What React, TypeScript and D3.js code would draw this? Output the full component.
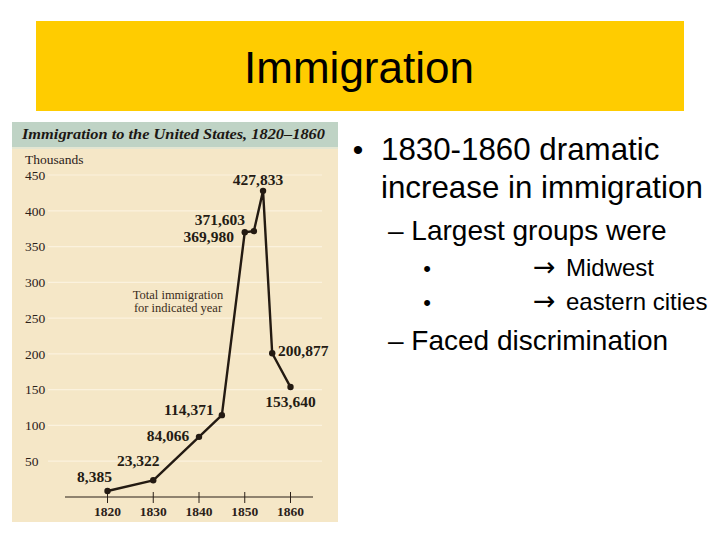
import * as d3 from 'd3';

// immigration by year (persons)
const years = [1820, 1830, 1840, 1845, 1850, 1852, 1854, 1856, 1860];
const immigrants = [8385, 23322, 84066, 114371, 369980, 371603, 427833, 200877, 153640];
const yTicks = [50, 100, 150, 200, 250, 300, 350, 400, 450];
const xTicks = [1820, 1830, 1840, 1850, 1860];

// where each value label sits relative to its point
const labelOffsets: [number, number][] = [
  [-13, -14],
  [-15, -20],
  [-31, -1],
  [-33, -6],
  [-36, 4],
  [-34, -12],
  [-5, -11],
  [31, -3],
  [0, 15],
];

const bullets3 = ['Midwest', 'eastern cities'];

const SANS = '"Liberation Sans", Arial, sans-serif';
const SERIF = '"Liberation Serif", "Times New Roman", serif';
const INK = '#2b2119';

export default function App() {
  const x = d3.scaleLinear().domain([1820, 1860]).range([107.5, 290.5]);
  const y = d3.scaleLinear().domain([0, 450]).range([497, 175]);
  const pts = years.map((yr, i) => ({ yr, v: immigrants[i] }));
  const line = d3
    .line<{ yr: number; v: number }>()
    .x((d) => x(d.yr))
    .y((d) => y(d.v / 1000));
  const fmt = d3.format(',');

  return (
    <div style={{ position: 'fixed', left: 0, top: 0 }}>
      <svg width={720} height={540} viewBox="0 0 720 540" style={{ display: 'block', background: '#fff' }}>
        {/* title bar */}
        <rect x={36} y={21} width={648} height={90} fill="#ffcc00" />
        <text x={359} y={83} textAnchor="middle" fontFamily={SANS} fontSize={44} fill="#000">
          Immigration
        </text>

        {/* scanned chart */}
        <rect x={12} y={122} width={326} height={400} fill="#f5e7c7" />
        <rect x={12} y={122} width={326} height={25} fill="#bfd3c5" />
        <rect x={12} y={147} width={326} height={2} fill="#e4e6d2" />
        <text
          x={22}
          y={139}
          fontFamily={SERIF}
          fontSize={15.5}
          fontWeight="bold"
          fontStyle="italic"
          fill="#1d1814"
          textLength={303}
          lengthAdjust="spacingAndGlyphs"
        >
          Immigration to the United States, 1820–1860
        </text>

        <g>
          {yTicks.map((t) => (
            <line key={t} x1={48} x2={322} y1={y(t)} y2={y(t)} stroke="#fbf2de" strokeWidth={1.2} />
          ))}
        </g>

        <text x={25} y={164} fontFamily={SERIF} fontSize={13.5} fill={INK}>
          Thousands
        </text>
        {yTicks.map((t) => (
          <text key={t} x={25} y={y(t)} dy="0.35em" fontFamily={SERIF} fontSize={13.5} fill={INK}>
            {t}
          </text>
        ))}

        {/* x axis */}
        <line x1={65} x2={313} y1={y(0)} y2={y(0)} stroke={INK} strokeWidth={1.2} />
        {xTicks.map((t) => (
          <g key={t}>
            <line x1={x(t)} x2={x(t)} y1={y(0) - 5} y2={y(0) + 6} stroke={INK} strokeWidth={1} />
            <text
              x={x(t)}
              y={516}
              textAnchor="middle"
              fontFamily={SERIF}
              fontSize={13.5}
              fontWeight="bold"
              fill={INK}
            >
              {t}
            </text>
          </g>
        ))}

        <path d={line(pts) ?? ''} fill="none" stroke="#231a12" strokeWidth={2.4} strokeLinejoin="round" />
        {pts.map((d) => (
          <circle key={d.yr} cx={x(d.yr)} cy={y(d.v / 1000)} r={3.2} fill="#231a12" />
        ))}
        {pts.map((d, i) => (
          <text
            key={d.yr}
            x={x(d.yr) + labelOffsets[i][0]}
            y={y(d.v / 1000) + labelOffsets[i][1]}
            dy="0.35em"
            textAnchor="middle"
            fontFamily={SERIF}
            fontSize={15.5}
            fontWeight="bold"
            fill="#241b14"
          >
            {fmt(d.v)}
          </text>
        ))}

        <text fontFamily={SERIF} fontSize={12.5} fill="#3a2c20" textAnchor="middle">
          <tspan x={178} y={299}>Total immigration</tspan>
          <tspan x={178} y={312}>for indicated year</tspan>
        </text>

        {/* bullet text */}
        <g fontFamily={SANS} fill="#000">
          <text x={358} y={160} fontSize={30} textAnchor="middle">•</text>
          <text x={381} y={160} fontSize={31.3}>1830-1860 dramatic</text>
          <text x={381} y={198} fontSize={31.3}>increase in immigration</text>
          <text x={388} y={240} fontSize={28}>– Largest groups were</text>
          {bullets3.map((b, i) => (
            <g key={b}>
              <text x={427} y={276 + i * 34} fontSize={22} textAnchor="middle">•</text>
              <text x={533} y={276 + i * 34} fontSize={24}>
                <tspan fontFamily='"DejaVu Sans", sans-serif' fontSize={27}>{'\u2192'}</tspan>
                <tspan x={566}>{b}</tspan>
              </text>
            </g>
          ))}
          <text x={388} y={350} fontSize={28}>– Faced discrimination</text>
        </g>
      </svg>
    </div>
  );
}
